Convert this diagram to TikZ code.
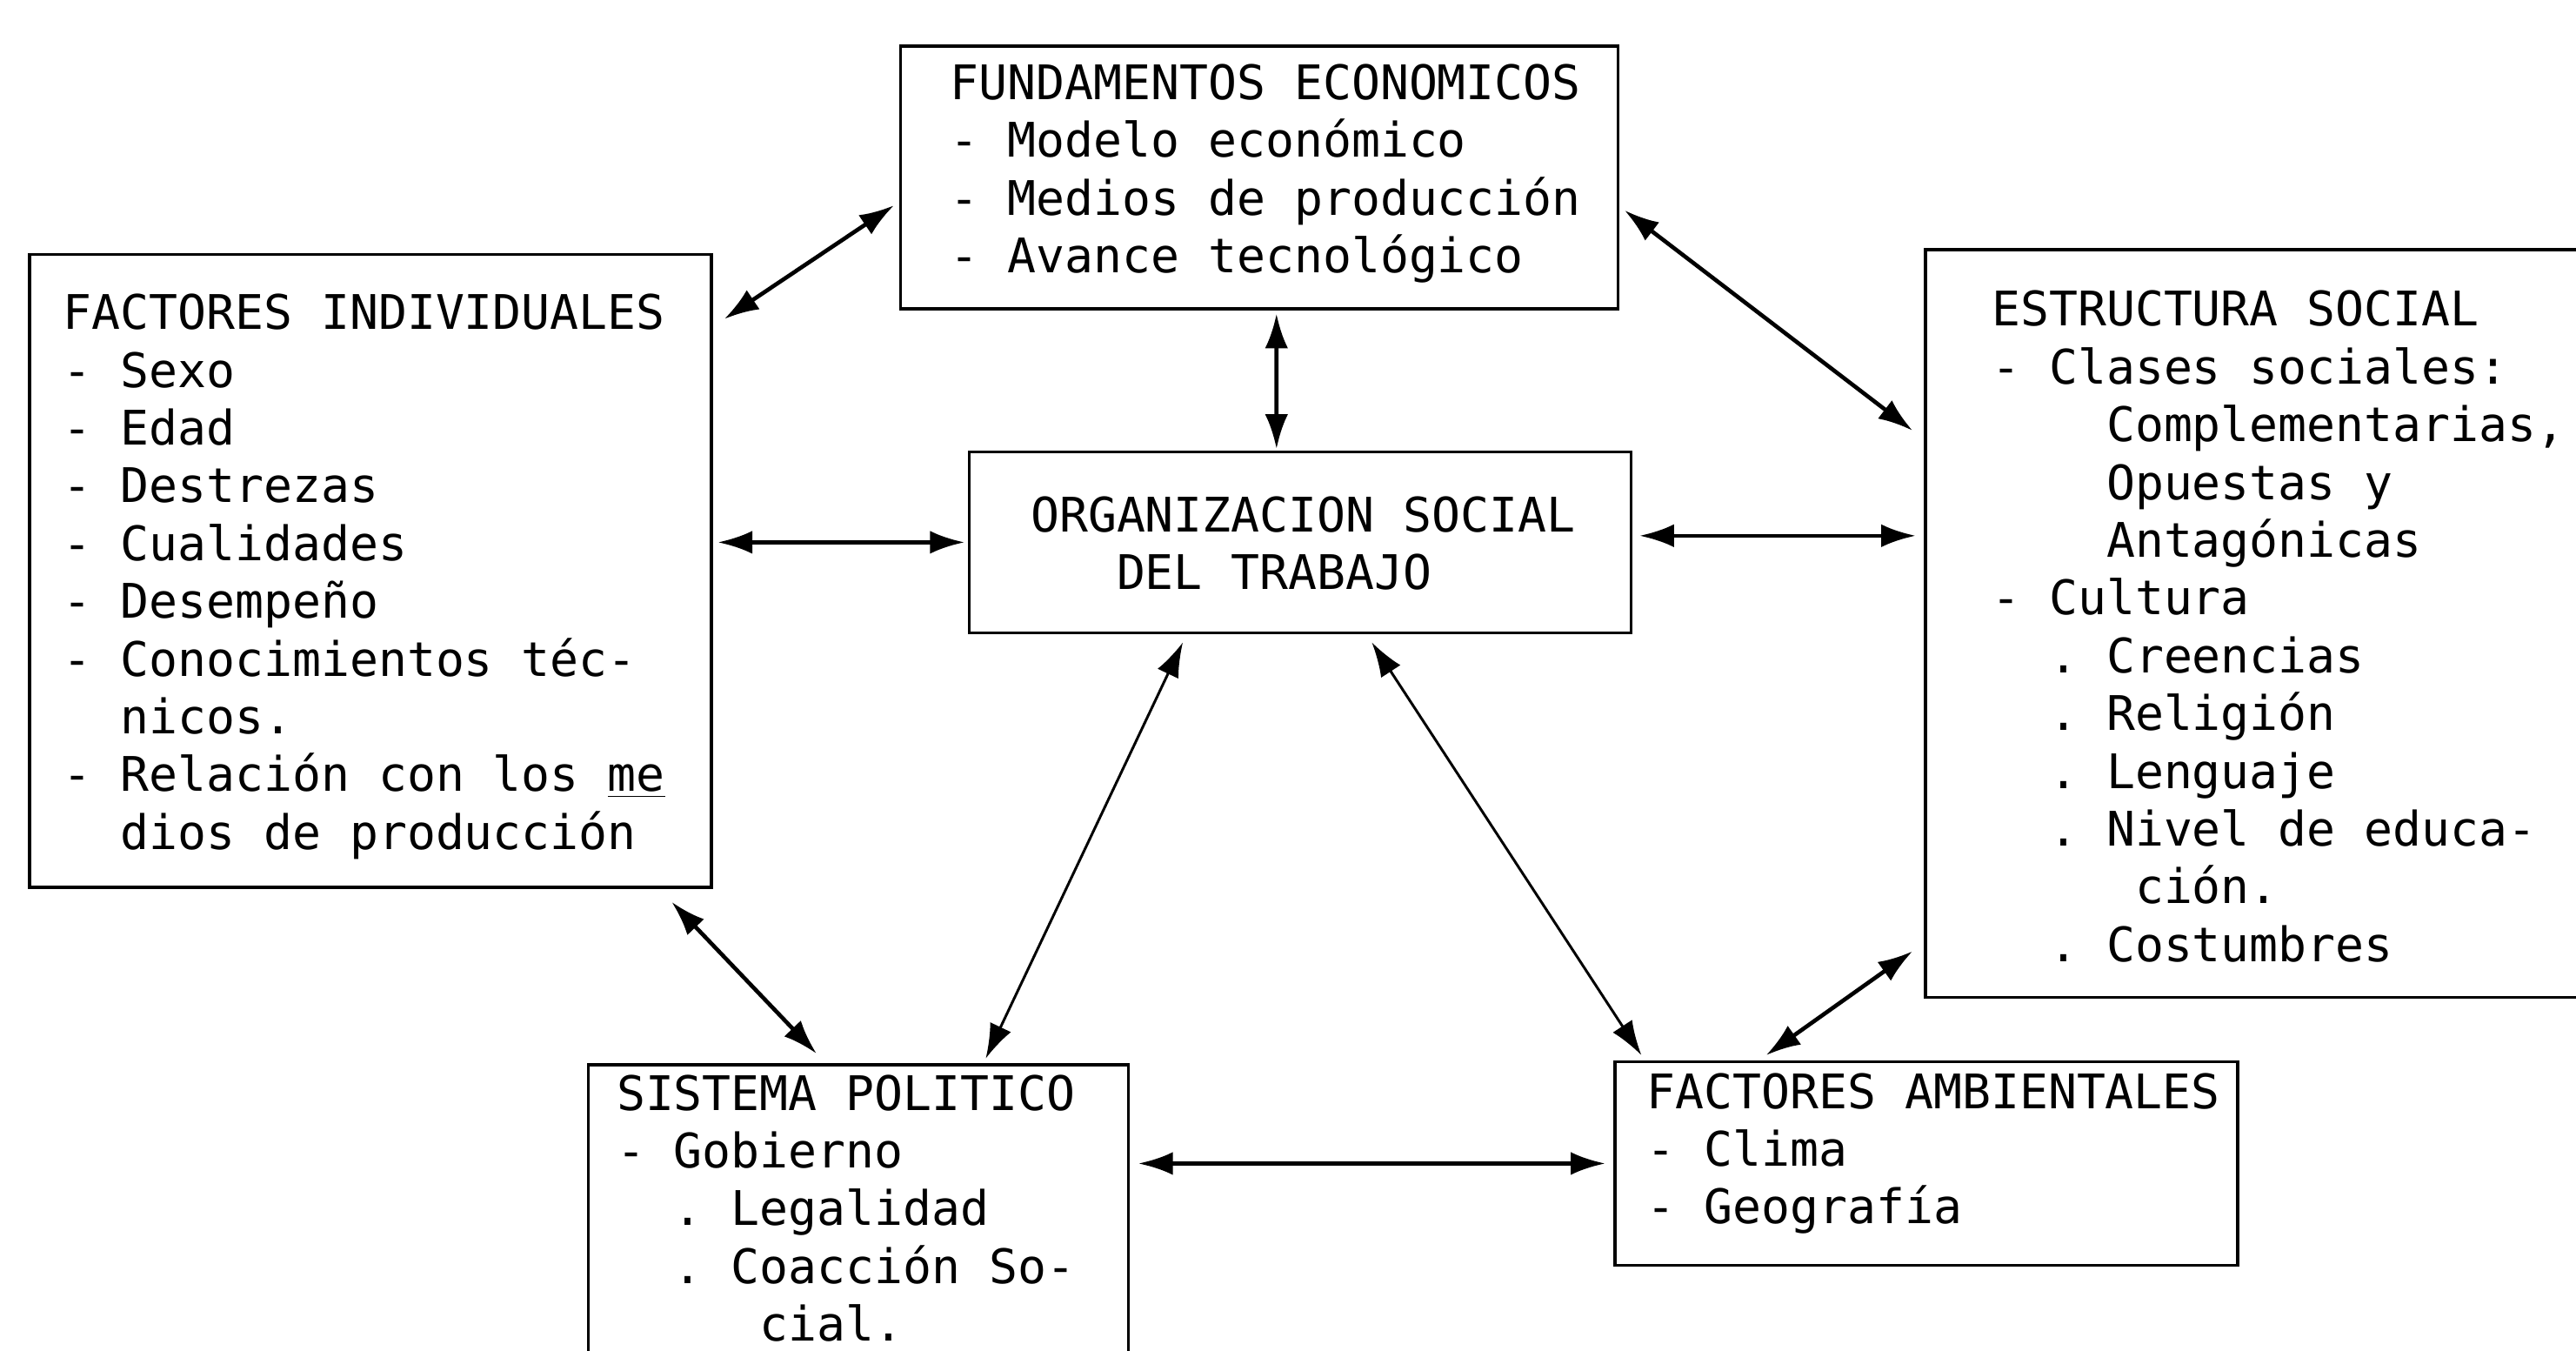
\documentclass[tikz,border=0pt]{standalone}
\usepackage{fontspec}
\newfontfamily\typefont{DejaVu Sans Mono}
\usetikzlibrary{calc,arrows.meta,fit}
\newcommand{\ind}[1]{\hspace*{#1\fontcharwd\font`M}}
\newcommand{\maquina}{\fontsize{16.5pt}{20pt}\selectfont\typefont\frenchspacing}
\newcommand{\espacio}{\spaceskip=\fontcharwd\font`M\relax\xspaceskip=\spaceskip}

\begin{document}
\begin{tikzpicture}[x=0.02cm, y=-0.02cm,
  box/.style={draw, line width=1pt, inner sep=0pt},
  txt/.style={anchor=base west, inner sep=0pt, text width=9cm, align=flush left,
              font=\maquina, execute at begin node=\espacio},
  link/.style={line width=1.4pt, >={Latex[length=12pt,width=8pt]}, <->},
  thinlink/.style={link, line width=0.9pt},
]
\useasboundingbox (0,0) rectangle (1568,822);

% cajas
\node[box, fit={(548,28) (985,188)}] (fund) {};
\node[box, fit={(18,155) (433,540)}] (indiv) {};
\node[box, fit={(590,275) (993,385)}] (org) {};
\node[box, fit={(1172,152) (1600,607)}] (estr) {};
\node[box, fit={(358,648) (687,860)}] (sist) {};
\node[box, fit={(983,646) (1362,770)}] (amb) {};

% textos
\node[txt] (fundtxt) at (578,60.5) {FUNDAMENTOS ECONOMICOS\\- Modelo económico\\- Medios de producción\\- Avance tecnológico};
\node[txt] (indivtxt) at (38,200.5) {FACTORES INDIVIDUALES\\- Sexo\\- Edad\\- Destrezas\\- Cualidades\\- Desempeño\\- Conocimientos téc-\\\ind{2}nicos.\\- Relación con los \underline{me}\\\ind{2}dios de producción};
\node[txt] (orgtxt) at (627,323.5) {ORGANIZACION SOCIAL\\\ind{3}DEL TRABAJO};
\node[txt] (estrtxt) at (1212,198.5) {ESTRUCTURA SOCIAL\\- Clases sociales:\\\ind{4}Complementarias,\\\ind{4}Opuestas y\\\ind{4}Antagónicas\\- Cultura\\\ind{2}. Creencias\\\ind{2}. Religión\\\ind{2}. Lenguaje\\\ind{2}. Nivel de educa-\\\ind{5}ción.\\\ind{2}. Costumbres};
\node[txt] (sisttxt) at (375,675.5) {SISTEMA POLITICO\\- Gobierno\\\ind{2}. Legalidad\\\ind{2}. Coacción So-\\\ind{5}cial.};
\node[txt] (ambtxt) at (1002,674.5) {FACTORES AMBIENTALES\\- Clima\\- Geografía};

% relaciones
\draw[link] ($(indiv.north east)+(7,40)$) -- ($(fund.west)+(-3,17)$);
\draw[link] ($(fund.south)+(10.5,2)$) -- ($(org.north)+(-14.5,-1)$);
\draw[link] ($(org.west -| indiv.east)+(3,0)$) -- ($(org.west)+(-2,0)$);
\draw[link] ($(fund.east)+(3,20)$) -- ($(estr.west)+(-7,-117.5)$);
\draw[link] ($(org.east)+(4,-4)$) -- ($(org.east -| estr.west)+(-5,-4)$);
\draw[thinlink] ($(org.south)+(-71.5,5)$) -- ($(sist.north)+(77.5,-3)$);
\draw[thinlink] ($(org.south)+(43.5,5)$) -- ($(amb.north west)+(17,-3)$);
\draw[link] ($(indiv.south east)+(-25,8)$) -- ($(sist.north)+(-25.5,-6)$);
\draw[link] ($(estr.south west)+(-7,-29)$) -- ($(amb.north)+(-97.5,-3)$);
\draw[link] ($(amb.west -| sist.east)+(5,0)$) -- ($(amb.west)+(-5,0)$);

\end{tikzpicture}
\end{document}
